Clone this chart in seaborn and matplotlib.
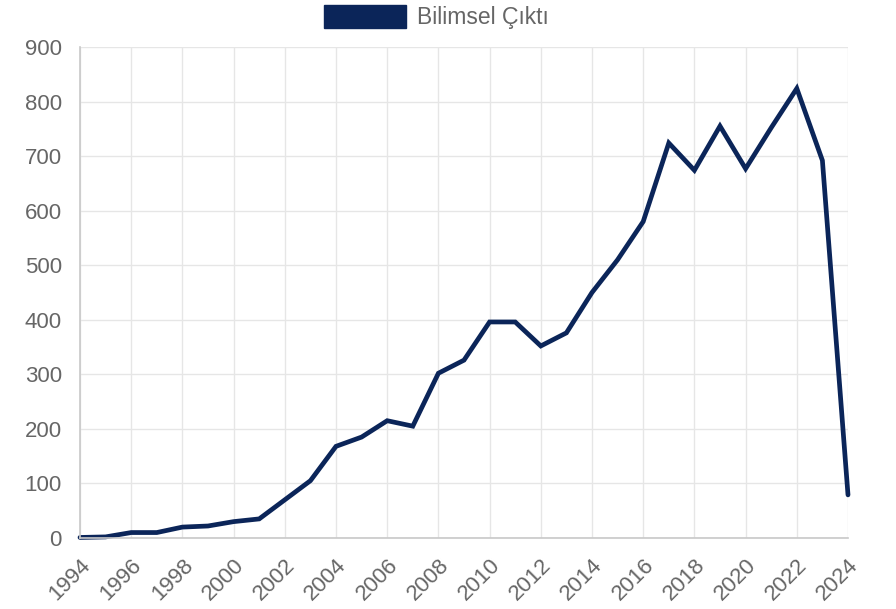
import matplotlib
matplotlib.use("Agg")
import matplotlib.pyplot as plt
from matplotlib.patches import Patch
import seaborn as sns
import pandas as pd

years = list(range(1994, 2025))
values = [1, 2, 10, 10, 20, 22, 30, 35, 70, 105, 168, 185, 215, 205, 302, 326,
          396, 396, 352, 376, 450, 510, 580, 724, 674, 755, 677, 752, 824, 692, 79]
series_name = "Bilimsel Çıktı"
line_color = "#0b2559"

df = pd.DataFrame({"year": years, "value": values})

sns.set_style("white")
plt.rcParams["font.family"] = ["Liberation Sans", "DejaVu Sans"]

fig = plt.figure(figsize=(8.96, 6.09), dpi=100)
ax = fig.add_axes([80/896, 1 - 538/609, 768/896, 491/609])

sns.lineplot(data=df, x="year", y="value", ax=ax, color=line_color,
             linewidth=3.4, solid_joinstyle="miter", solid_capstyle="round")
for ln in ax.get_lines():
    ln.set_clip_on(False)

ax.set_xlim(1994, 2024)
ax.set_ylim(0, 900)
ax.set_xticks(list(range(1994, 2025, 2)))
ax.set_yticks(list(range(0, 901, 100)))
ax.set_xlabel("")
ax.set_ylabel("")

grid_c = "#e6e6e6"
ax.grid(True, color=grid_c, linewidth=1)
ax.set_axisbelow(True)
for s in ["top", "right"]:
    ax.spines[s].set_visible(False)
for s in ["left", "bottom"]:
    ax.spines[s].set_color("#c8c8c8")
    ax.spines[s].set_linewidth(1.2)

ax.tick_params(axis="both", which="both", length=9, color=grid_c,
               labelcolor="#666666", labelsize=16, pad=3)
ax.tick_params(axis="y", length=10)
for lbl in ax.get_xticklabels():
    lbl.set_rotation(45)
    lbl.set_ha("right")
    lbl.set_rotation_mode("anchor")

handle = Patch(facecolor=line_color, edgecolor=line_color)
fig.legend(handles=[handle], labels=[series_name], loc="center",
           bbox_to_anchor=(436/896, 1 - 17/609), frameon=False,
           fontsize=16.5, labelcolor="#666666", handlelength=3.6,
           handleheight=1.2, handletextpad=0.45)

fig.savefig("out.png", dpi=100)
